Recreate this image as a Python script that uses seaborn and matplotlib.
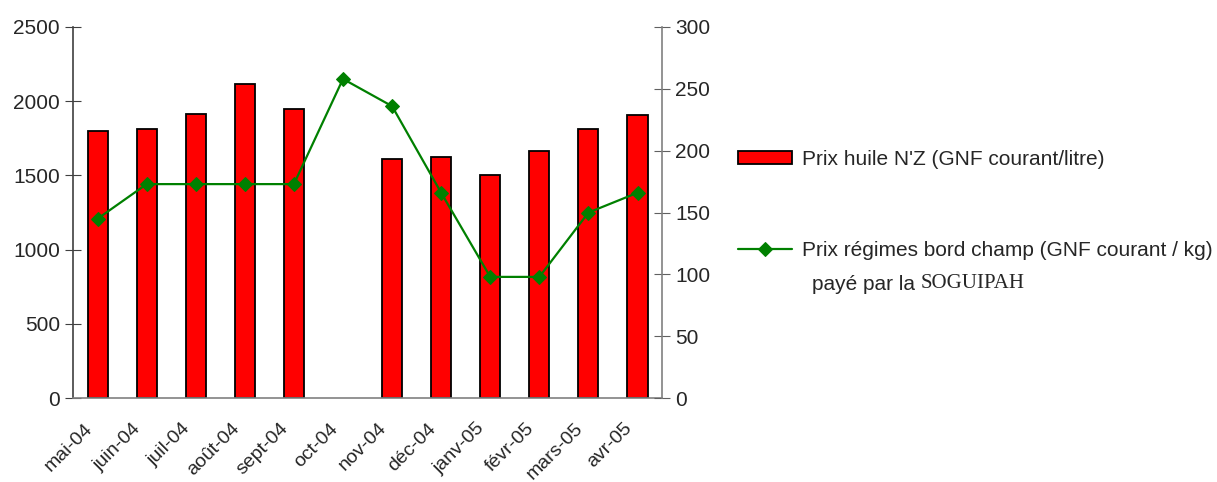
import numpy as np
import pandas as pd
import matplotlib
matplotlib.use("Agg")
import matplotlib.pyplot as plt
import matplotlib.transforms as mtransforms
import seaborn as sns

# data
mois = ["mai-04", "juin-04", "juil-04", "août-04", "sept-04", "oct-04",
        "nov-04", "déc-04", "janv-05", "févr-05", "mars-05", "avr-05"]
prix_huile = [1800, 1810, 1915, 2115, 1945, np.nan,
              1610, 1625, 1505, 1665, 1810, 1905]
prix_regimes = [145, 173, 173, 173, 173, 258,
                236, 166, 98, 98, 150, 166]

label_huile = "Prix huile N'Z (GNF courant/litre)"
label_regimes = "Prix régimes bord champ (GNF courant / kg)"

sns.set_style("white")
plt.rcParams["font.family"] = ["Liberation Sans", "DejaVu Sans"]

df = pd.DataFrame({"mois": mois, "huile": prix_huile, "regimes": prix_regimes})
df["pos"] = np.arange(len(mois))

fig = plt.figure(figsize=(12.17, 4.82), dpi=100)
ax = fig.add_axes([0.06, 0.174, 0.484, 0.77])

sns.barplot(data=df, x="mois", y="huile", color="#ff0000", saturation=1,
            width=0.41, edgecolor="black", linewidth=1.3, ax=ax,
            label=label_huile)

ax2 = ax.twinx()
sns.lineplot(data=df, x="pos", y="regimes", color="#008000", marker="D",
             markersize=7, markeredgecolor="#008000", linewidth=1.6,
             ax=ax2, label=label_regimes)

ax.set_xlim(-0.5, len(mois) - 0.5)
ax2.set_xlim(-0.5, len(mois) - 0.5)
ax.set_ylim(0, 2500)
ax2.set_ylim(0, 300)
ax.set_yticks(np.arange(0, 2501, 500))
ax2.set_yticks(np.arange(0, 301, 50))
for a in (ax, ax2):
    a.set_xlabel("")
    a.set_ylabel("")
    a.grid(False)

# category labels centred, tick marks between categories (Excel style)
ax.set_xticks(np.arange(len(mois)))
ax.set_xticklabels(mois, rotation=45, ha="right", va="center",
                   rotation_mode="anchor", fontsize=14)
ax.tick_params(axis="x", which="major", length=0, pad=20)
shift = mtransforms.ScaledTranslation(-0.08, 0, fig.dpi_scale_trans)
for lab in ax.get_xticklabels():
    lab.set_transform(lab.get_transform() + shift)
ax.set_xticks(np.arange(-0.5, len(mois)), minor=True)
ax.tick_params(axis="x", which="minor", length=9, direction="inout",
               color="#606060", width=1)
ax.tick_params(axis="y", length=11, direction="inout", labelsize=15,
               color="#404040", pad=4)
ax2.tick_params(axis="y", length=11, direction="inout", labelsize=15,
                color="#606060", pad=4)

for a in (ax, ax2):
    a.spines["top"].set_visible(False)
ax.spines["right"].set_visible(False)
ax.spines["left"].set_color("#404040")
ax.spines["bottom"].set_color("#808080")
ax2.spines["left"].set_visible(False)
ax2.spines["bottom"].set_visible(False)
ax2.spines["right"].set_color("#808080")
for a in (ax, ax2):
    for s in a.spines.values():
        s.set_linewidth(1.2)

# legend on the right
h1, l1 = ax.get_legend_handles_labels()
h2, l2 = ax2.get_legend_handles_labels()
if ax2.get_legend() is not None:
    ax2.get_legend().remove()
if ax.get_legend() is not None:
    ax.get_legend().remove()
fig.legend(h1 + h2, l1 + l2, loc="upper left",
           bbox_to_anchor=(738 / 1217, 1 - 150 / 482), frameon=False,
           fontsize=15, labelspacing=3.45, handlelength=2.6,
           handletextpad=0.45, handleheight=0.55, borderpad=0,
           borderaxespad=0)

t1 = fig.text(812 / 1217, 1 - 284 / 482, "payé par la ", fontsize=15,
              va="center", ha="left")
ax.annotate("SOGUIPAH", xy=(1, 0), xycoords=t1, va="bottom", ha="left",
            fontsize=15, family="Liberation Serif", annotation_clip=False)

fig.savefig("out.png", dpi=100)
